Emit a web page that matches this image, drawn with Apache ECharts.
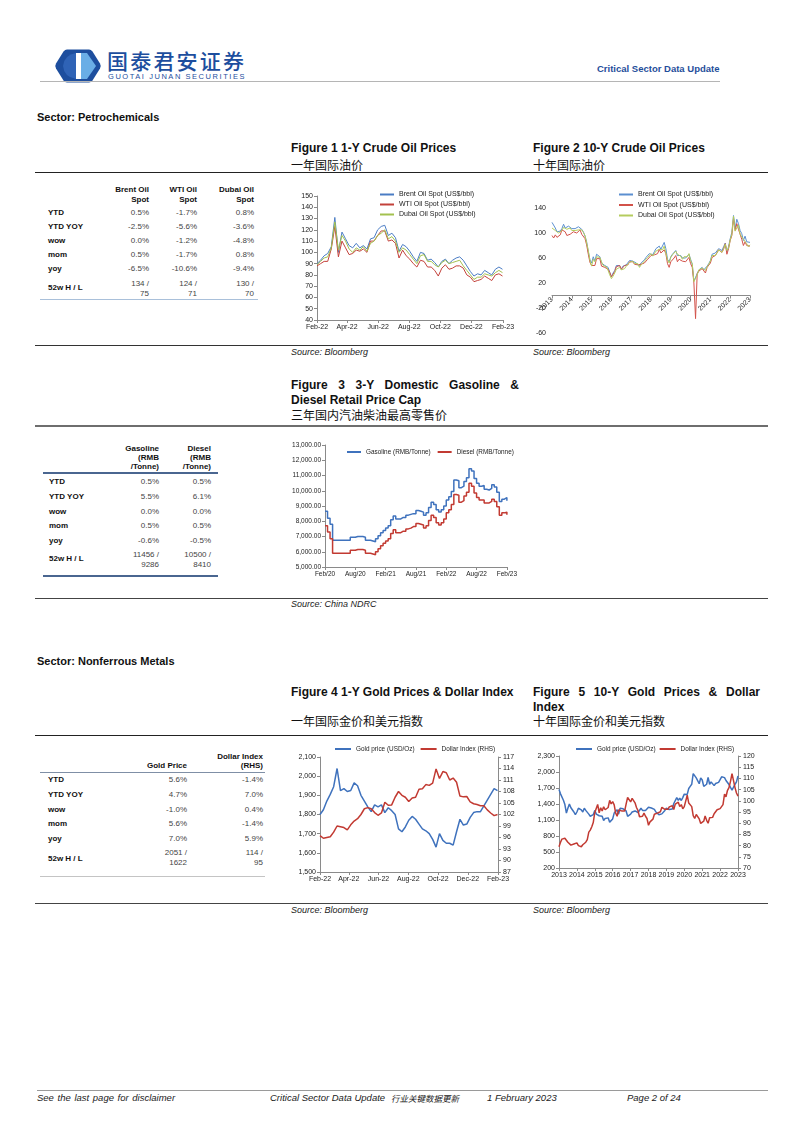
<!DOCTYPE html>
<html><head><meta charset="utf-8">
<script src="https://cdn.jsdelivr.net/npm/echarts@6/dist/echarts.min.js"></script>
<style>
html,body{margin:0;padding:0;background:#fff;}
#page{position:relative;width:802px;height:1133px;overflow:hidden;background:#fff;font-family:"Liberation Sans",Arial,sans-serif;color:#111;}
.t{position:absolute;white-space:nowrap;}
.ln{position:absolute;}
.ch{position:absolute;}
</style></head>
<body><div id="page"></div>
<script>
// ================= DATA =================
// Figure 1: 1-Y crude oil, weekly from 2022-02-01 (US$/bbl)
const oil1yStart = '2022-02-01';
const brent1y = [90,93,97,99, 105,131,100,118,112, 106,104,108,104, 106,103,112,113,120, 123,124,115,117, 113,101,107,105, 101,96,92,100,99, 93,94,91,87, 92,94,90,93, 95,96,93,88,83, 79,81,80,84, 82,80,85,87,85];
const wti1y   = [88,90,92,92, 103,123,96,110,104, 98,99,102,101, 103,100,110,110,115, 119,119,110,111, 108,95,102,97, 94,90,87,93,92, 87,87,84,79, 86,89,85,86, 88,88,86,80,78, 74,75,76,79, 77,75,80,81,79];
const dubai1y = [89,92,95,96, 104,127,102,115,110, 103,100,104,102, 105,101,108,110,115, 117,120,112,114, 110,100,104,102, 98,94,90,97,98, 92,92,89,87, 91,93,90,91, 92,93,88,84,80, 76,78,78,81, 80,79,82,84,82];
const oil1yTicks = ['2022-02-01','2022-04-01','2022-06-01','2022-08-01','2022-10-01','2022-12-01','2023-02-01'];

// Figure 2: 10-Y crude oil, monthly from 2013-01
const brent10y = [117,116,108,102,100,103,107,114,108,109,111,110,
 107,109,107,108,110,112,106,102,95,86,70,57,
 52,62,55,66,64,62,52,54,48,49,45,37,
 30,36,40,48,50,48,42,47,49,49,50,56,
 55,55,52,52,50,47,52,52,57,61,64,67,
 69,65,70,75,77,79,74,77,85,75,58,54,
 62,66,68,72,64,65,64,60,61,60,63,66,
 58,50,23,20,35,41,43,45,41,38,47,51,
 56,66,63,68,70,75,75,72,78,84,70,78,
 91,101,128,107,122,115,104,99,88,95,86,85,
 85];
const wti10y = [96,92,97,93,92,97,105,107,102,96,93,98,
 97,102,101,100,103,105,98,95,91,81,66,53,
 48,50,48,59,60,59,47,49,45,46,42,37,
 30,33,38,46,49,48,42,45,48,47,49,54,
 52,54,50,49,49,46,50,47,52,54,58,60,
 64,61,65,68,67,74,68,70,73,67,51,45,
 54,57,60,64,54,58,58,55,54,54,55,61,
 51,45,20,-37,35,39,40,43,40,36,45,48,
 52,61,59,64,66,73,74,69,75,83,66,75,
 88,96,123,104,115,106,98,90,80,86,80,80,
 79];
const dubai10y = [108,111,104,101,100,101,104,109,106,106,107,108,
 104,105,104,104,105,108,105,101,96,84,72,56,
 47,58,54,62,62,61,54,48,45,46,40,33,
 27,31,36,42,45,45,41,44,43,47,45,53,
 54,55,51,51,51,45,49,50,55,57,61,63,
 67,63,64,71,74,74,71,73,79,76,57,52,
 61,65,67,71,66,63,63,58,62,60,62,67,
 56,51,22,20,33,41,43,44,41,40,46,50,
 55,64,62,64,68,73,72,69,74,82,72,76,
 89,98,127,103,108,113,98,97,90,92,83,78,
 81];
const yearTicks = ['2013','2014','2015','2016','2017','2018','2019','2020','2021','2022','2023'];

// Figure 3: 3-Y retail price cap, semi-monthly from 2020-02 (RMB/Tonne)
const gasoline3y = [8650,8200,7800,6750,6750,6750,6750,6750,6750,6750,6950,6950,7000,7000,7000,6950,6750,6750,6700,6650,6850,7050,
 7250,7400,7550,7700,8100,8350,8150,8150,8250,8250,8400,8450,8500,8500,8700,8650,8600,8400,8550,8900,9250,9100,8750,8600,
 8750,9000,9400,9600,9950,10700,10650,10200,10300,10600,10850,11450,11300,10800,10500,10300,10350,10100,10050,10150,10400,10250,9900,9300,
 9450,9550,9350];
const diesel3y = [7700,7300,6850,5900,5900,5900,5900,5900,5900,5900,6100,6100,6150,6150,6150,6100,5900,5900,5850,5800,6000,6200,
 6400,6550,6700,6850,7200,7450,7250,7250,7350,7350,7500,7550,7650,7650,7850,7800,7750,7550,7700,8050,8400,8250,7900,7750,
 7900,8150,8550,8750,9100,9750,9700,9250,9350,9650,9900,10500,10300,9850,9550,9400,9400,9200,9200,9300,9450,9300,8950,8400,
 8550,8600,8420];

// Figure 4: 1-Y gold & dollar index, weekly from 2022-02-01
const gold1y = [1800,1825,1870,1905, 1945,2040,1925,1935,1920, 1925,1965,1950,1900, 1870,1840,1815,1850,1840, 1850,1810,1835,1820, 1800,1725,1710,1735, 1770,1790,1775,1750,1725, 1715,1700,1670,1630, 1700,1665,1650,1650, 1640,1710,1775,1745,1750, 1785,1810,1815,1815, 1845,1875,1905,1935,1925];
const dxy1y = [96.5,95.8,96.0,96.2, 97.4,99.0,98.8,98.6,98.0, 99.3,100.3,100.9,102.0, 103.5,103.8,103.5,102.5,101.8, 102.4,105.2,104.4,104.5, 106.5,108.0,107.0,106.5, 105.4,106.3,106.5,108.6,108.7, 109.8,109.6,110.2,113.9, 111.4,113.2,112.9,111.0, 111.5,110.4,106.8,106.6,106.7, 105.3,104.8,104.6,104.3, 104.3,103.2,102.4,101.7,102.0];

// Figure 5: 10-Y gold & dollar index, monthly from 2013-01
const gold10y = [1670,1590,1600,1470,1390,1230,1320,1400,1330,1320,1250,1200,
 1250,1320,1290,1290,1250,1320,1280,1290,1210,1170,1170,1200,
 1280,1210,1180,1180,1190,1170,1090,1130,1115,1140,1060,1060,
 1120,1230,1230,1290,1210,1320,1350,1310,1320,1270,1170,1150,
 1210,1250,1250,1270,1270,1240,1270,1320,1280,1270,1280,1300,
 1340,1320,1325,1315,1300,1250,1225,1200,1190,1215,1220,1280,
 1320,1315,1295,1285,1305,1410,1415,1520,1470,1510,1465,1520,
 1585,1585,1580,1690,1730,1770,1970,1970,1890,1880,1780,1890,
 1850,1730,1710,1770,1900,1770,1815,1815,1745,1785,1775,1805,
 1795,1910,1940,1895,1840,1810,1765,1710,1660,1630,1770,1815,
 1925];
const dxy10y = [79.5,81.5,82.9,82.2,83.3,83.1,81.5,82.0,80.2,80.2,80.7,80.2,
 81.2,80.0,80.1,79.5,80.4,79.8,81.5,82.7,86.0,86.9,88.4,90.3,
 94.8,95.3,98.4,94.6,96.9,95.5,97.3,96.0,96.4,97.0,100.2,98.6,
 99.6,98.2,94.6,93.1,95.9,96.1,95.5,96.0,95.4,98.5,101.5,102.3,
 99.5,101.1,100.4,99.1,97.0,95.6,92.9,92.7,93.1,94.5,93.1,92.1,
 89.1,90.6,90.0,91.8,94.0,94.5,94.5,95.1,95.1,97.1,97.3,96.2,
 95.6,96.2,97.3,97.5,97.8,96.1,98.5,98.9,99.4,97.4,98.3,96.4,
 97.4,98.1,102.5,99.0,98.3,97.4,93.4,92.1,93.9,94.0,91.9,89.9,
 90.6,90.9,93.2,91.3,90.0,92.4,92.2,92.6,94.2,94.1,96.0,95.7,
 96.5,96.7,98.3,103.0,101.8,104.7,105.9,108.7,112.1,111.5,105.9,103.5,
 102.1];

// Tables
const rowLabels = ['YTD','YTD YOY','wow','mom','yoy','52w H / L'];
const oilCols = [['Brent Oil','Spot'],['WTI Oil','Spot'],['Dubai Oil','Spot']];
const oilVals = [['0.5%','-1.7%','0.8%'],['-2.5%','-5.6%','-3.6%'],['0.0%','-1.2%','-4.8%'],['0.5%','-1.7%','0.8%'],['-6.5%','-10.6%','-9.4%'],[['134 /','75'],['124 /','71'],['130 /','70']]];
const fuelCols = [['Gasoline','(RMB','/Tonne)'],['Diesel','(RMB','/Tonne)']];
const fuelVals = [['0.5%','0.5%'],['5.5%','6.1%'],['0.0%','0.0%'],['0.5%','0.5%'],['-0.6%','-0.5%'],[['11456 /','9286'],['10500 /','8410']]];
const goldCols = [['Gold Price'],['Dollar Index','(RHS)']];
const goldVals = [['5.6%','-1.4%'],['4.7%','7.0%'],['-1.0%','0.4%'],['5.6%','-1.4%'],['7.0%','5.9%'],[['2051 /','1622'],['114 /','95']]];

// ================= HELPERS =================
const page = document.getElementById('page');
const FONT = '"Liberation Sans", Arial, sans-serif';
const CJK = '"Noto Sans CJK SC", "Liberation Sans", sans-serif';
function T(x, y, s, o) {
  o = o || {};
  const size = o.size || 8;
  const d = document.createElement('div');
  d.className = 't';
  d.textContent = s;
  d.style.fontSize = size + 'px';
  d.style.lineHeight = size + 'px';
  d.style.fontFamily = o.cjk ? CJK : FONT;
  if (o.bold) d.style.fontWeight = 'bold';
  if (o.weight) d.style.fontWeight = o.weight;
  if (o.italic) d.style.fontStyle = 'italic';
  d.style.color = o.color || '#111';
  d.style.top = (y - size / 2) + 'px';
  if (o.width) {
    d.style.left = x + 'px'; d.style.width = o.width + 'px';
    d.style.textAlign = 'justify'; d.style.textAlignLast = 'justify';
  } else if (o.align === 'right') {
    d.style.left = x + 'px'; d.style.transform = 'translateX(-100%)';
  } else {
    d.style.left = x + 'px';
  }
  if (o.ws) d.style.wordSpacing = o.ws + 'px';
  if (o.ls) d.style.letterSpacing = o.ls + 'px';
  page.appendChild(d);
  return d;
}
function L(x1, x2, y, h, color) {
  const d = document.createElement('div');
  d.className = 'ln';
  d.style.left = x1 + 'px'; d.style.width = (x2 - x1) + 'px';
  d.style.top = (y - h / 2) + 'px'; d.style.height = h + 'px';
  d.style.background = color;
  page.appendChild(d);
}
function table(cfg) {
  cfg.cols.forEach((lines, c) => {
    lines.forEach((s, i) => T(cfg.colRight[c], cfg.headBottom - (lines.length - 1 - i) * cfg.headLh, s, {size: 8, bold: true, align: 'right', color: '#111'}));
  });
  rowLabels.forEach((lab, r) => {
    const ly = r < 5 ? cfg.rowY[r] : cfg.lastLabelY;
    T(cfg.labelX, ly, lab, {size: 8, bold: true, color: '#111'});
    cfg.vals[r].forEach((v, c) => {
      if (Array.isArray(v)) {
        T(cfg.colRight[c], cfg.lastY[0], v[0], {size: 8, align: 'right', color: '#444'});
        T(cfg.colRight[c], cfg.lastY[1], v[1], {size: 8, align: 'right', color: '#444'});
      } else {
        T(cfg.colRight[c], cfg.rowY[r], v, {size: 8, align: 'right', color: '#444'});
      }
    });
  });
}
const MON = ['Jan','Feb','Mar','Apr','May','Jun','Jul','Aug','Sep','Oct','Nov','Dec'];
const DAY = 86400000;
function ts(s) { return Date.parse(s + 'T00:00:00Z'); }
function weeklyDates(start, n) { const t0 = ts(start); return Array.from({length: n}, (_, i) => t0 + i * 7 * DAY); }
function monthlyDates(y0, m0, n) { return Array.from({length: n}, (_, i) => Date.UTC(y0, m0 - 1 + i, 1)); }
function semiMonthlyDates(y0, m0, n) { return Array.from({length: n}, (_, i) => Date.UTC(y0, m0 - 1 + Math.floor(i / 2), i % 2 ? 16 : 1)); }
function iso(t) { return new Date(t).toISOString().slice(0, 10); }
function pair(dates, vals) { return vals.map((v, i) => [dates[i], v]); }
function fmtMonYY(v) { const d = new Date(v); return MON[d.getUTCMonth()] + '-' + String(d.getUTCFullYear()).slice(2); }
function fmtYear(v) { return String(new Date(v).getUTCFullYear()); }
function fmtThousands(v, dec) { return Number(v).toLocaleString('en-US', {minimumFractionDigits: dec, maximumFractionDigits: dec}); }
function chartDiv(x, y, w, h) {
  const d = document.createElement('div');
  d.className = 'ch';
  d.style.left = x + 'px'; d.style.top = y + 'px'; d.style.width = w + 'px'; d.style.height = h + 'px';
  page.appendChild(d);
  return echarts.init(d, null, {renderer: 'canvas', width: w, height: h});
}
function ls(name, data, color, width, extra) {
  return Object.assign({name, type: 'line', data, showSymbol: false, symbol: 'none', lineStyle: {color, width}, itemStyle: {color}, animation: false, emphasis: {disabled: true}}, extra || {});
}
// date x-axis drawn as a value axis of timestamps with explicit tick positions
function dateAxis(ticks, fmt, extraLabel) {
  return {type: 'value', min: ticks[0], max: ticks[ticks.length - 1], scale: true,
    axisLine: {show: true, lineStyle: {color: AX}}, splitLine: {show: false},
    axisTick: {show: true, customValues: ticks, length: 3, lineStyle: {color: AX}},
    axisLabel: Object.assign({customValues: ticks, formatter: fmt, margin: 4, hideOverlap: false, showMinLabel: true, showMaxLabel: true}, LBL, extraLabel || {})};
}
const AX = '#8a8a8a';
const LBL = {fontSize: 7, color: '#222', fontFamily: FONT};

// ================= PAGE TEXT =================
(function () {
  const svg = '<svg xmlns="http://www.w3.org/2000/svg" width="48" height="36" viewBox="0 0 48 36">' +
    '<path d="M13 1.5 H35 Q37 1.5 38.5 3.5 L46 15.5 Q47.5 18 46 20.5 L38.5 32.5 Q37 34.5 35 34.5 H13 Q11 34.5 9.5 32.5 L2 20.5 Q0.5 18 2 15.5 L9.5 3.5 Q11 1.5 13 1.5 Z" fill="#1d4e9e"/>' +
    '<path d="M22 5 H27 V31 H22 Z" fill="#ffffff"/>' +
    '<path d="M27 5 H33 L42 18 L33 31 H27 Z" fill="#6aaee6"/>' +
    '<path d="M22 5 Q10 7 9 18 Q10 29 22 31 Z" fill="#2f63b6"/>' +
    '</svg>';
  const d = document.createElement('div');
  d.style.cssText = 'position:absolute;left:54px;top:48px;width:48px;height:36px;';
  d.innerHTML = svg;
  page.appendChild(d);
})();
T(107, 60, '国泰君安证券', {size: 21, cjk: true, color: '#1d4e9e', ls: 2.2, weight: 500});
T(108, 76.5, 'GUOTAI JUNAN SECURITIES', {size: 7.5, color: '#1d4e9e', ls: 1.55});
T(597, 69, 'Critical Sector Data Update', {size: 9.5, bold: true, color: '#1f4e9b'});
L(40, 720, 81.5, 1, '#b5b5b5');

T(37, 117, 'Sector: Petrochemicals', {size: 11, bold: true});
T(291, 148, 'Figure 1 1-Y Crude Oil Prices', {size: 12, bold: true});
T(291, 164.5, '一年国际油价', {size: 12, cjk: true});
T(533, 148, 'Figure 2 10-Y Crude Oil Prices', {size: 12, bold: true});
T(533, 164.5, '十年国际油价', {size: 12, cjk: true});
L(35, 768, 172.5, 1, '#222');
L(35, 768, 345.5, 1.5, '#333');
T(291, 352, 'Source: Bloomberg', {size: 9, italic: true, color: '#222'});
T(533, 352, 'Source: Bloomberg', {size: 9, italic: true, color: '#222'});

T(291, 385, 'Figure 3 3-Y Domestic Gasoline &', {size: 12, bold: true, width: 228});
T(291, 399.5, 'Diesel Retail Price Cap', {size: 12, bold: true});
T(291, 414.5, '三年国内汽油柴油最高零售价', {size: 12, cjk: true});
L(35, 768, 426, 2, '#6e6e6e');
L(35, 768, 598.5, 1, '#444');
T(291, 604.5, 'Source: China NDRC', {size: 9, italic: true, color: '#222'});

T(37, 661, 'Sector: Nonferrous Metals', {size: 11, bold: true});
T(291, 692, 'Figure 4 1-Y Gold Prices & Dollar Index', {size: 12, bold: true});
T(291, 721, '一年国际金价和美元指数', {size: 12, cjk: true});
T(533, 692, 'Figure 5 10-Y Gold Prices & Dollar', {size: 12, bold: true, width: 227});
T(533, 706.5, 'Index', {size: 12, bold: true});
T(533, 721, '十年国际金价和美元指数', {size: 12, cjk: true});
L(35, 768, 735.5, 1, '#222');
L(35, 768, 903.5, 1, '#444');
T(291, 910, 'Source: Bloomberg', {size: 9, italic: true, color: '#222'});
T(533, 910, 'Source: Bloomberg', {size: 9, italic: true, color: '#222'});

L(37, 768, 1090, 1, '#9a9a9a');
T(37, 1098, 'See the last page for disclaimer', {size: 9.5, italic: true, color: '#222', ws: 1});
T(270, 1098, 'Critical Sector Data Update', {size: 9.5, italic: true, color: '#222'});
T(391, 1098, '行业关键数据更新', {size: 8.5, italic: true, cjk: true, color: '#222'});
T(487, 1098, '1 February 2023', {size: 9.5, italic: true, color: '#222'});
T(627, 1098, 'Page 2 of 24', {size: 9.5, italic: true, color: '#222'});

// ================= TABLES =================
table({cols: oilCols, vals: oilVals, colRight: [149, 197, 254], headBottom: 200, headLh: 10, labelX: 48,
  rowY: [213, 227, 241, 255, 269], lastY: [284, 294], lastLabelY: 288});
L(40, 258, 299.5, 1.5, '#a9c0da');
table({cols: fuelCols, vals: fuelVals, colRight: [159, 211], headBottom: 467, headLh: 9, labelX: 49,
  rowY: [482, 497, 512, 526, 541], lastY: [555, 565], lastLabelY: 559});
L(43, 218, 472.5, 2, '#4a6690');
L(43, 218, 575.5, 2, '#4a6690');
table({cols: goldCols, vals: goldVals, colRight: [187, 263], headBottom: 766, headLh: 9, labelX: 48,
  rowY: [780, 795, 810, 824, 839], lastY: [853, 863], lastLabelY: 859});
L(40, 265, 772.5, 1.5, '#7f8fa6');
L(40, 265, 876.5, 1, '#c4c4c4');

// ================= CHARTS =================
const BLUE = '#4a7cc4', RED = '#c3413a', GREEN = '#a3c14f';

// Figure 1
try {
  const dates = weeklyDates(oil1yStart, brent1y.length);
  const ticks = oil1yTicks.map(ts);
  const c = chartDiv(280, 180, 240, 160);
  c.setOption({
    animation: false,
    grid: {left: 37, right: 17, top: 16, bottom: 20},
    legend: {orient: 'vertical', left: 95, top: 5, icon: 'rect', itemWidth: 14, itemHeight: 2, itemGap: 1,
      textStyle: {fontSize: 7, color: '#222', fontFamily: FONT, lineHeight: 9}},
    xAxis: dateAxis(ticks, fmtMonYY),
    yAxis: {type: 'value', min: 40, max: 150, interval: 10,
      axisLine: {show: true, lineStyle: {color: AX}}, axisTick: {show: true, length: 3, lineStyle: {color: AX}},
      splitLine: {show: false}, axisLabel: Object.assign({margin: 4}, LBL)},
    series: [
      ls('Brent Oil Spot (US$/bbl)', pair(dates, brent1y), BLUE, 1),
      ls('WTI Oil Spot (US$/bbl)', pair(dates, wti1y), RED, 1),
      ls('Dubai Oil Spot (US$/bbl)', pair(dates, dubai1y), GREEN, 1)
    ]
  });
} catch (e) { console.error(e); }

// Figure 2: the date axis crosses the value axis at zero; a second grid whose bottom edge
// is the zero line of the first one carries the date axis.
try {
  const cats = monthlyDates(2013, 1, brent10y.length).map(iso);
  const W = 240, H = 160, gTop = 28, gBottom = 7, yMin = -60, yMax = 140;
  const plotH = H - gTop - gBottom;
  const zeroFromTop = gTop + plotH * (yMax - 0) / (yMax - yMin);
  const c = chartDiv(525, 180, W, H);
  c.setOption({
    animation: false,
    grid: [{left: 27, right: 15, top: gTop, bottom: gBottom}, {left: 27, right: 15, top: gTop, bottom: H - zeroFromTop}],
    legend: {orient: 'vertical', left: 89, top: 5, icon: 'rect', itemWidth: 14, itemHeight: 2, itemGap: 1.5,
      textStyle: {fontSize: 7, color: '#222', fontFamily: FONT, lineHeight: 9}},
    xAxis: [
      {gridIndex: 0, type: 'category', data: cats, boundaryGap: false, show: false},
      {gridIndex: 1, type: 'category', data: cats, boundaryGap: false,
        axisLine: {onZero: false, lineStyle: {color: AX}},
        axisTick: {interval: 11, length: 3, lineStyle: {color: AX}},
        axisLabel: Object.assign({interval: 11, formatter: s => s.slice(0, 4), rotate: 45, margin: 3}, LBL)}
    ],
    yAxis: [
      {gridIndex: 0, type: 'value', min: yMin, max: yMax, interval: 40,
        axisLine: {show: false}, axisTick: {show: false}, splitLine: {show: false},
        axisLabel: Object.assign({margin: 6}, LBL)},
      {gridIndex: 1, type: 'value', min: 0, max: 1, show: false, splitLine: {show: false}}
    ],
    series: [
      ls('Brent Oil Spot (US$/bbl)', brent10y, '#5b8fd0', 1),
      ls('WTI Oil Spot (US$/bbl)', wti10y, '#d2524a', 1),
      ls('Dubai Oil Spot (US$/bbl)', dubai10y, '#b5cc5e', 1)
    ]
  });
} catch (e) { console.error(e); }

// Figure 3
try {
  const cats = semiMonthlyDates(2020, 2, gasoline3y.length).map(iso);
  const fmt = s => MON[+s.slice(5, 7) - 1] + '/' + s.slice(2, 4);
  const c = chartDiv(280, 435, 240, 150);
  c.setOption({
    animation: false,
    grid: {left: 45, right: 12, top: 10, bottom: 18},
    legend: {left: 62, top: 9, icon: 'rect', itemWidth: 14, itemHeight: 2, itemGap: 7,
      textStyle: {fontSize: 6.4, color: '#222', fontFamily: FONT}},
    xAxis: {type: 'category', data: cats, boundaryGap: false,
      axisLine: {lineStyle: {color: AX}},
      axisTick: {interval: 11, length: 3, lineStyle: {color: AX}},
      axisLabel: Object.assign({interval: 11, formatter: fmt, margin: 4}, LBL, {fontSize: 6.5})},
    yAxis: {type: 'value', min: 5000, max: 13000, interval: 1000,
      axisLine: {show: true, lineStyle: {color: AX}}, axisTick: {show: true, length: 3, lineStyle: {color: AX}},
      splitLine: {show: false}, axisLabel: Object.assign({margin: 4, formatter: v => fmtThousands(v, 2)}, LBL, {fontSize: 6.5})},
    series: [
      ls('Gasoline (RMB/Tonne)', gasoline3y, '#3f72bd', 1.5, {step: 'end'}),
      ls('Diesel (RMB/Tonne)', diesel3y, '#c23a32', 1.5, {step: 'end'})
    ]
  });
} catch (e) { console.error(e); }

// Figure 4
try {
  const dates = weeklyDates(oil1yStart, gold1y.length);
  const ticks = oil1yTicks.map(ts);
  const c = chartDiv(285, 740, 235, 150);
  c.setOption({
    animation: false,
    grid: {left: 35, right: 22, top: 17, bottom: 18},
    legend: {left: 45, top: 1, icon: 'rect', itemWidth: 16, itemHeight: 2, itemGap: 6,
      textStyle: {fontSize: 6.4, color: '#222', fontFamily: FONT}},
    xAxis: dateAxis(ticks, fmtMonYY),
    yAxis: [
      {type: 'value', min: 1500, max: 2100, interval: 100,
        axisLine: {show: true, lineStyle: {color: AX}}, axisTick: {show: true, length: 3, lineStyle: {color: AX}},
        splitLine: {show: false}, axisLabel: Object.assign({margin: 4, formatter: v => fmtThousands(v, 0)}, LBL)},
      {type: 'value', min: 87, max: 117, interval: 3, position: 'right',
        axisLine: {show: true, lineStyle: {color: AX}}, axisTick: {show: true, length: 3, lineStyle: {color: AX}},
        splitLine: {show: false}, axisLabel: Object.assign({margin: 5}, LBL)}
    ],
    series: [
      ls('Gold price (USD/Oz)', pair(dates, gold1y), '#3f72bd', 1.5),
      ls('Dollar Index (RHS)', pair(dates, dxy1y), '#c23a32', 1.5, {yAxisIndex: 1})
    ]
  });
} catch (e) { console.error(e); }

// Figure 5
try {
  const dates = monthlyDates(2013, 1, gold10y.length);
  const ticks = yearTicks.map(y => Date.UTC(+y, 0, 1));
  const c = chartDiv(525, 740, 240, 150);
  c.setOption({
    animation: false,
    grid: {left: 34, right: 27, top: 16, bottom: 22},
    legend: {left: 46, top: 1, icon: 'rect', itemWidth: 16, itemHeight: 2, itemGap: 4,
      textStyle: {fontSize: 6.4, color: '#222', fontFamily: FONT}},
    xAxis: dateAxis(ticks, fmtYear),
    yAxis: [
      {type: 'value', min: 200, max: 2300, interval: 300,
        axisLine: {show: true, lineStyle: {color: AX}}, axisTick: {show: true, length: 3, lineStyle: {color: AX}},
        splitLine: {show: false}, axisLabel: Object.assign({margin: 4, formatter: v => fmtThousands(v, 0)}, LBL)},
      {type: 'value', min: 70, max: 120, interval: 5, position: 'right',
        axisLine: {show: true, lineStyle: {color: AX}}, axisTick: {show: true, length: 3, lineStyle: {color: AX}},
        splitLine: {show: false}, axisLabel: Object.assign({margin: 5}, LBL)}
    ],
    series: [
      ls('Gold price (USD/Oz)', pair(dates, gold10y), '#3f72bd', 1.5),
      ls('Dollar Index (RHS)', pair(dates, dxy10y), '#c23a32', 1.5, {yAxisIndex: 1})
    ]
  });
} catch (e) { console.error(e); }
</script>
</body></html>
